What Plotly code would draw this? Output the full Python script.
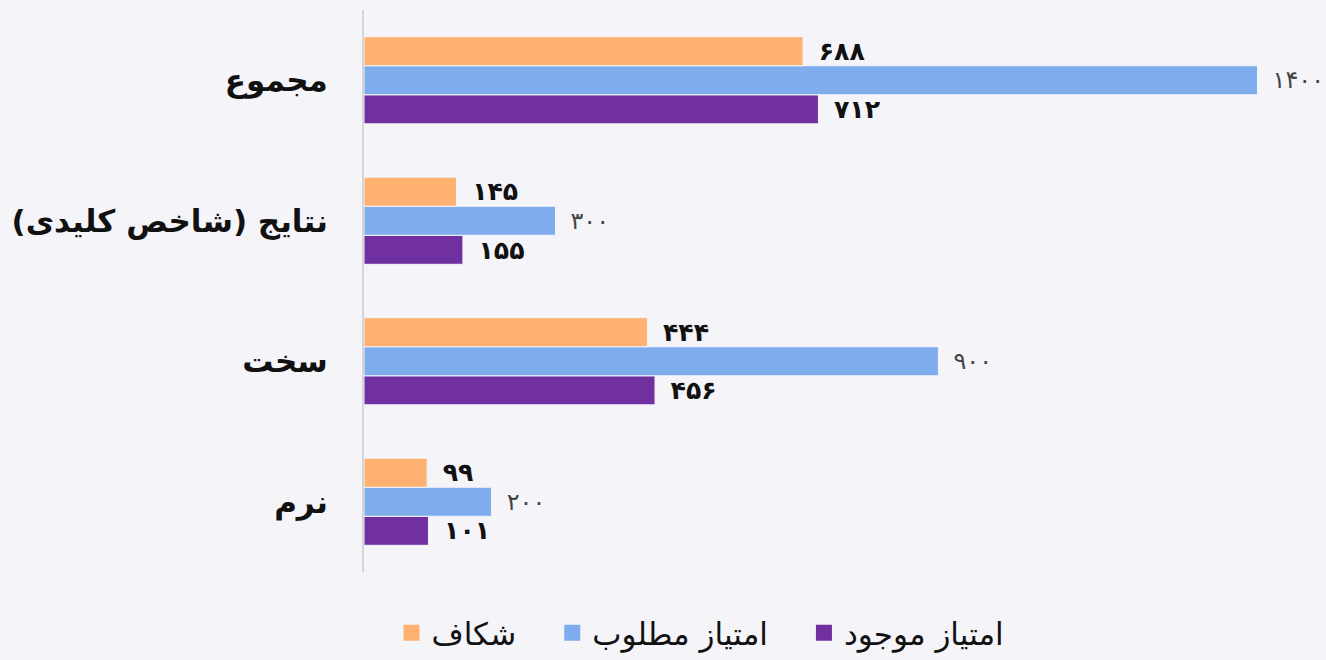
import plotly.graph_objects as go

categories = ["نرم", "سخت", "نتایج (شاخص کلیدی)", "مجموع"]
current_score = [101, 456, 155, 712]    # امتیاز موجود
target_score = [200, 900, 300, 1400]    # امتیاز مطلوب
gap = [99, 444, 145, 688]               # شکاف

FA_DIGITS = str.maketrans("0123456789", "۰۱۲۳۴۵۶۷۸۹")


def fa(v):
    # en space keeps the label clear of the bar end
    return "\u2002" + str(v).translate(FA_DIGITS)


FONT = "DejaVu Sans"
series = [
    ("امتیاز موجود", current_score, "#7030a0", dict(color="#111111", size=26, family=FONT, weight="bold")),
    ("امتیاز مطلوب", target_score, "#7eacec", dict(color="#444444", size=24, family=FONT)),
    ("شکاف", gap, "#ffb172", dict(color="#111111", size=26, family=FONT, weight="bold")),
]

fig = go.Figure()
for name, vals, color, tfont in series:
    fig.add_trace(go.Bar(
        y=categories, x=vals, orientation="h", name=name,
        marker=dict(color=color, line=dict(color="#f4f4fa", width=1)),
        text=[fa(v) for v in vals], textposition="outside",
        textfont=tfont, cliponaxis=False, showlegend=False,
    ))

# legend entries with larger square swatches; trailing space widens the item gap
for name, vals, color, _ in series:
    fig.add_trace(go.Scatter(
        x=[None], y=[None], mode="markers", name=name + "\u2003",
        marker=dict(symbol="square", size=22, color=color),
    ))

fig.update_layout(
    width=1326, height=660,
    paper_bgcolor="#f4f4f9", plot_bgcolor="#f4f4f9",
    margin=dict(l=364, r=20, t=10, b=88),
    barmode="group", bargap=0.38, bargroupgap=0,
    font=dict(family=FONT, color="#111111"),
    showlegend=True,
    legend=dict(orientation="h", traceorder="reversed",
                xref="container", x=0.54, xanchor="center",
                yref="container", y=0.0, yanchor="bottom",
                font=dict(size=31, family=FONT), itemwidth=30),
    xaxis=dict(range=[0, 1476], visible=False, showgrid=False, zeroline=False),
    yaxis=dict(showline=True, linecolor="#d6d6d9", linewidth=2, showgrid=False,
               ticks="", ticklabelstandoff=28,
               tickfont=dict(size=31, family=FONT, weight="bold", color="#111111")),
)

fig.write_html("out.html")
